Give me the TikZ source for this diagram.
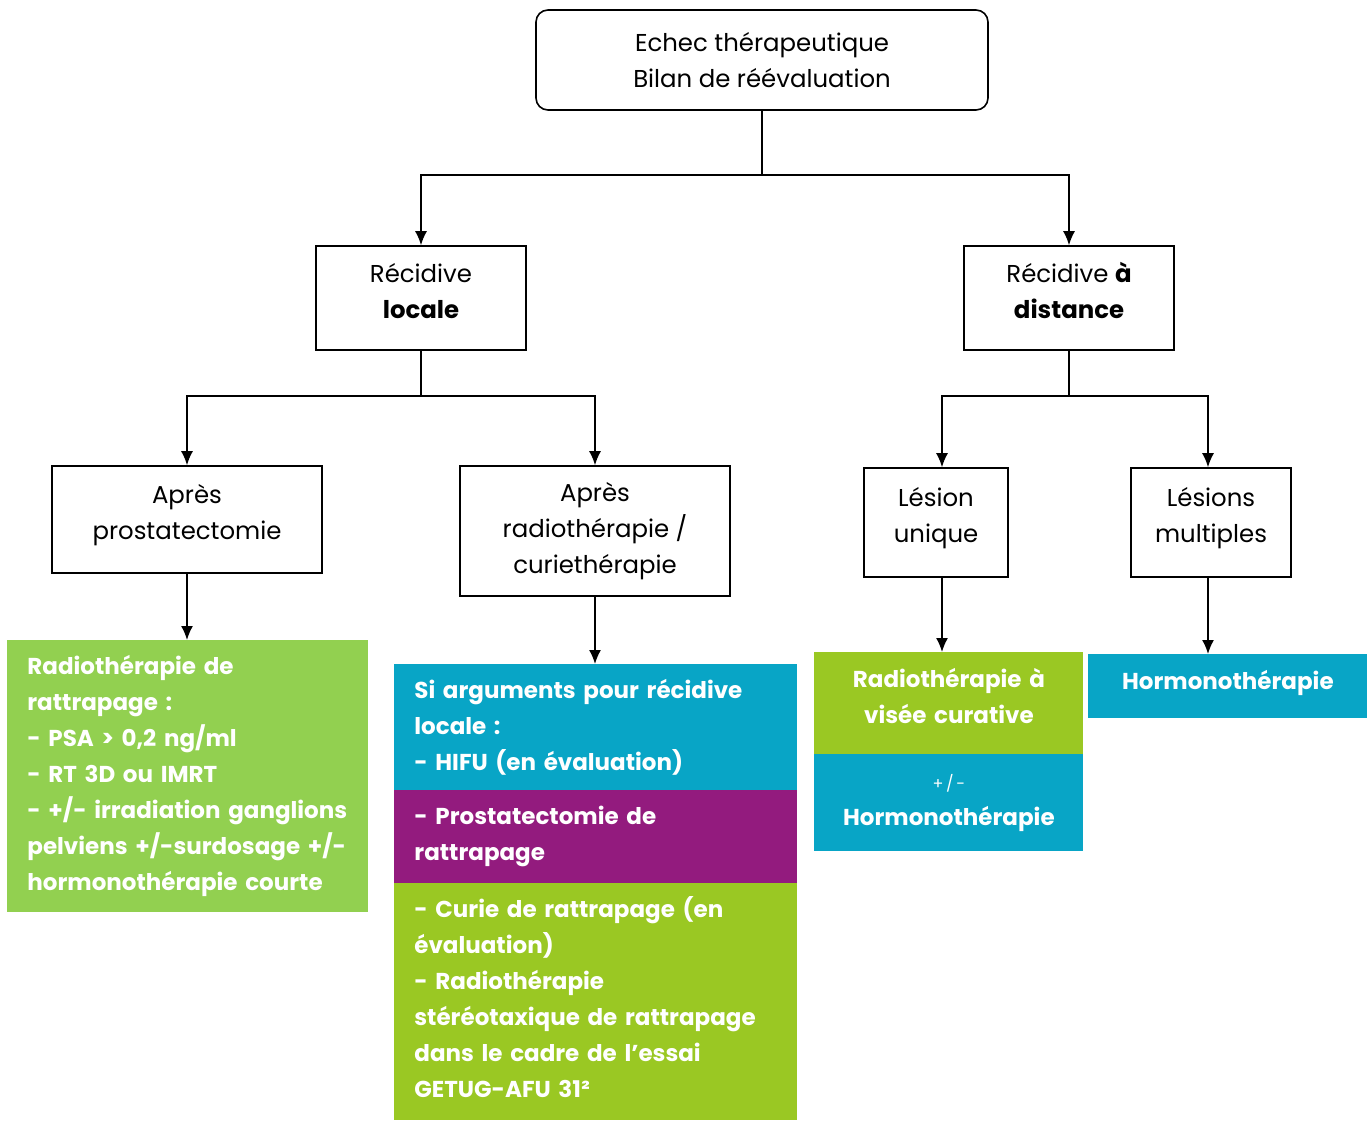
\documentclass[tikz,border=0pt]{standalone}
\usepackage{fontspec}
\setmainfont{Poppins}
\usetikzlibrary{arrows.meta}
\definecolor{vert}{RGB}{146,208,80}
\definecolor{vertfonce}{RGB}{154,200,35}
\definecolor{bleu}{RGB}{8,165,198}
\definecolor{violet}{RGB}{147,27,126}

\begin{document}
\begin{tikzpicture}[x=0.5pt,y=-0.5pt,
	boite/.style={draw,line width=0.8pt,align=center,inner sep=0pt,font=\fontsize{12.2}{18}\selectfont},
	bloc/.style={anchor=north west,inner xsep=10pt,inner ysep=0pt,text=white,font=\bfseries\fontsize{11.5}{18}\selectfont},
	fleche/.style={-{Latex[length=7pt,width=6pt]},line width=0.8pt}]
		\useasboundingbox (0,0) rectangle (1368,1120);
		% niveau 1
		\node[boite,rounded corners=6pt,minimum width=226pt,minimum height=50pt] (echec) at (762,60) {Echec thérapeutique\\Bilan de réévaluation};
		% niveau 2
		\node[boite,text depth=7.5pt,minimum width=105pt,minimum height=52pt] (locale) at (421,298) {Récidive\\\textbf{locale}};
		\node[boite,text depth=7.5pt,minimum width=105pt,minimum height=52pt] (distance) at (1069,298) {Récidive \textbf{à}\\\textbf{distance}};
		% niveau 3
		\node[boite,text depth=8pt,minimum width=135pt,minimum height=53.5pt] (prosta) at (187,519.5) {Après\\prostatectomie};
		\node[boite,minimum width=135pt,minimum height=65pt] (radio) at (595,531) {Après\\radiothérapie /\\curiethérapie};
		\node[boite,text depth=8pt,minimum width=72pt,minimum height=54.5pt] (unique) at (936,522.5) {Lésion\\unique};
		\node[boite,text depth=8pt,minimum width=80pt,minimum height=54.5pt] (multi) at (1211,522.5) {Lésions\\multiples};
		% traitements
		\node[bloc,fill=vert,text width=160.5pt,minimum height=136pt] (rattrap) at (7,640) {Radiothérapie de\\rattrapage :\\- PSA > 0,2 ng/ml\\- RT 3D ou IMRT\\- +/- irradiation ganglions\\pelviens +/-surdosage +/-\\hormonothérapie courte};
		\node[bloc,fill=bleu,text width=181.5pt,minimum height=63pt] (hifu) at (394,664) {Si arguments pour récidive\\locale :\\- HIFU (en évaluation)};
		\node[bloc,fill=violet,text width=181.5pt,minimum height=46.5pt] (prostatect) at (394,790) {- Prostatectomie de\\rattrapage};
		\node[bloc,fill=vertfonce,text depth=95pt,text width=181.5pt,minimum height=118.5pt] (curie) at (394,883) {- Curie de rattrapage (en\\évaluation)\\- Radiothérapie\\stéréotaxique de rattrapage\\dans le cadre de l’essai\\GETUG-AFU 31²};
		\node[bloc,fill=vertfonce,text depth=26pt,align=center,text width=114.5pt,minimum height=51pt] (curative) at (814,652) {Radiothérapie à\\visée curative};
		\node[bloc,fill=bleu,align=center,text width=114.5pt,minimum height=48.5pt] (hormo1) at (814,754) {{\mdseries\footnotesize +\,/\,-}\\Hormonothérapie};
		\node[bloc,fill=bleu,text depth=6.5pt,align=center,text width=119.5pt,minimum height=32pt] (hormo2) at (1088,654) {Hormonothérapie};
		% liaisons
		\coordinate (j1) at (762,175);
		\coordinate (j2) at (421,396);
		\coordinate (j3) at (1069,396);
		\draw[line width=0.8pt] (echec) -- (j1);
		\draw[fleche] (j1) -| (locale);
		\draw[fleche] (j1) -| (distance);
		\draw[line width=0.8pt] (locale) -- (j2);
		\draw[fleche] (j2) -| (prosta);
		\draw[fleche] (j2) -| (radio);
		\draw[line width=0.8pt] (distance) -- (j3);
		\draw[fleche] (j3) -| ([xshift=3pt]unique.north);
		\draw[fleche] (j3) -| ([xshift=-1.5pt]multi.north);
		\draw[fleche] (prosta) -- (prosta |- rattrap.north);
		\draw[fleche] (radio) -- (radio |- hifu.north);
		\draw[fleche] ([xshift=3pt]unique.south) -- ([xshift=3pt]unique.south |- curative.north);
		\draw[fleche] ([xshift=-1.5pt]multi.south) -- ([xshift=-1.5pt]multi.south |- hormo2.north);
\end{tikzpicture}
\end{document}
